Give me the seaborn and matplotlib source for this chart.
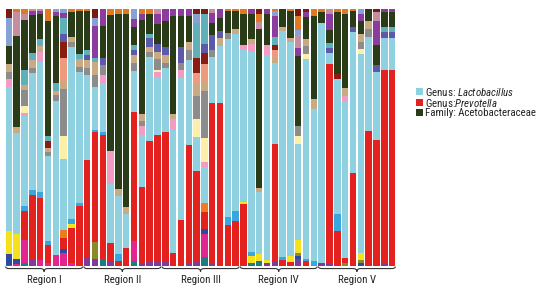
import numpy as np
import pandas as pd
import seaborn as sns
import matplotlib
matplotlib.use("Agg")
import matplotlib.pyplot as plt
from matplotlib import font_manager
from matplotlib.path import Path
from matplotlib.patches import PathPatch, Rectangle
from matplotlib.transforms import blended_transform_factory

# ---------------- data (relative abundance, % per sample) ----------------
regions = ["Region I", "Region II", "Region III", "Region IV", "Region V"]
samples_per_region = 10

lactobacillus = [56, 39, 35, 46.6, 50, 33, 59.5, 25.6, 68, 52,
                 33, 17.5, 20, 22.5, 23, 13, 16, 20.5, 32.6, 22.5,
                 25, 48, 55, 33, 12, 12, 19, 23, 69, 69,
                 59, 78, 24, 79, 31, 87, 83, 36, 80, 60,
                 93, 4, 53, 61, 55, 78, 37, 26.5, 12.4, 12.4]
prevotella = [0, 0, 11, 26, 24, 7, 0, 4, 14, 23.7,
              38, 45, 50, 7.4, 2, 7, 50, 30, 47, 50,
              50, 5, 18, 46, 31, 6, 66, 66, 16, 17.5,
              24, 0, 0, 0, 45, 2.3, 1.5, 0, 2, 0,
              0, 77, 13.6, 2.3, 36, 0, 53, 48.5, 75, 76]
acetobacteraceae = [7, 35, 19.5, 15, 9.7, 44.7, 26, 0, 9.7, 17,
                    15, 0, 13, 52, 68, 74.5, 7, 37, 8, 8,
                    10, 38, 12, 10, 0, 0, 5, 5, 8.5, 7,
                    12, 10, 61, 12, 0, 7, 10.5, 26, 8.5, 33,
                    4, 5, 24, 29, 6, 5, 5, 8, 5.5, 5.5]
# minor taxa
purple_b = [0.5, 0, 0, 2.3, 0, 0, 0, 0, 0, 0,
            3, 3, 0, 1.5, 0, 0, 0, 1, 1.5, 1.5,
            2, 0, 0, 1, 1.5, 0, 1, 0, 0, 0,
            0, 0, 0, 1, 1.5, 0, 0, 2.7, 0, 0,
            1, 1, 0, 0, 0, 0, 0, 0, 1, 0]
teal_b = [0, 0, 1.2, 0, 0, 0, 0, 0, 0, 0,
          0, 0, 3, 0, 0, 0, 2, 0, 0, 0,
          0, 0, 0, 0, 0, 3, 0, 0, 0, 0,
          0, 1, 2, 0, 0, 0, 0, 0, 0, 0,
          0, 0, 0, 0, 0, 0, 0, 0, 0, 0]
magenta = [0, 0.8, 9, 0, 2.3, 1.2, 4.3, 4.6, 1.2, 0,
           0, 0, 0, 0, 0, 0, 7.5, 0, 0, 0,
           0, 0, 0, 0, 0, 8, 0, 0, 0, 0,
           0, 0, 0, 0, 0, 0, 0, 0, 0, 0,
           0, 0, 0, 0, 0, 0, 0, 0, 0, 0]
navy = [4, 2, 0, 0, 0, 0, 0, 1.5, 0, 0,
        0, 0, 0, 0, 0, 0, 0, 0, 0, 0,
        0, 0, 0, 0, 0, 1.5, 0, 0, 0, 0,
        0, 0, 0, 0, 0, 0, 0, 1, 0, 0,
        0, 0, 0, 0, 0, 1, 0, 0, 0, 0]
olive = [0, 0, 0, 0, 0, 0, 0, 0, 0, 0,
         0, 6.6, 0, 0, 0, 0, 0, 0, 0, 0,
         0, 0, 0, 0, 0, 0, 0, 0, 0, 0,
         0, 0, 0, 0, 0, 0, 0, 1.2, 0, 0,
         0, 0, 0, 1, 0, 1.5, 0, 0, 0, 0]
orange = [0, 0, 0, 0, 0, 0, 0, 3, 0, 0,
          0, 0, 0, 0, 0, 0, 0, 0, 0, 0,
          0, 0, 0, 0, 0, 3, 0, 0, 0, 0,
          0, 0, 0, 0, 0, 0, 0, 0, 0, 0,
          0, 0, 0, 0, 0, 0, 0, 0, 0, 0]
yellow = [9, 9.5, 0, 0, 0, 0, 0, 0, 1.5, 0,
          0, 0, 0, 0, 0, 0, 0, 0, 0, 0,
          0, 0, 0, 0, 0, 0, 0, 0, 0, 0,
          1, 3, 2.5, 1.5, 0, 0, 2.5, 4.7, 0, 0,
          0, 0, 0, 0, 0, 2.7, 0, 0, 0, 0]
sky = [0, 0, 2, 2, 2, 1.5, 0, 0, 2, 1,
       0, 1, 1, 0, 2.5, 0, 0, 0, 0, 0,
       0, 0, 0, 0, 0, 0, 0, 0, 3, 4,
       0, 1.5, 0, 0, 0, 1, 0, 0, 1, 2,
       0, 0, 6.6, 0, 0, 0, 0, 0, 0, 0]
pink = [3, 0, 1.2, 0, 3.9, 0, 0, 0, 0, 0,
        0, 0, 3, 12.4, 0, 0, 0, 3.5, 0, 2,
        0, 4, 3, 0, 0, 2, 0, 0, 0, 0,
        2, 3, 0, 4, 0, 0, 0, 0, 0, 0,
        0, 0, 0, 2, 0, 0, 0, 0, 0, 0]
lightyellow = [0, 0, 2.7, 0, 0, 0, 0, 8.5, 0, 0,
               0, 0, 0, 0, 0, 0, 0, 0, 0, 1,
               0, 0, 0, 0, 6, 8, 0, 0, 0, 0,
               0, 0, 0, 0, 0, 0, 0, 3, 2, 0,
               0, 0, 0, 0, 0, 2, 0, 0, 0, 0]
gray = [3, 0, 6, 2, 0, 1.5, 2.5, 17, 2, 2,
        3, 5, 4, 0, 0, 0, 3, 2, 2, 4,
        2, 0, 3, 4, 8, 16, 3, 0, 2.5, 0,
        0, 0, 0, 0, 0, 0, 0, 4, 3, 0,
        0, 0, 0, 0, 0, 3, 3, 0, 0, 0]
tan = [3, 2.3, 2, 3, 2.3, 1.5, 1.5, 3, 2, 3,
       3, 5, 0, 0, 2.7, 2.7, 3, 2.5, 2, 3,
       3, 2, 0, 3, 4, 3, 0, 3, 0, 2,
       0, 2, 1.5, 0, 2, 1.5, 1.5, 0, 3, 4,
       0, 0, 0, 3, 0, 3, 3, 0, 0, 0]
salmon = [0, 0, 0, 0, 0, 0, 0, 8, 0, 0,
          0, 0, 0, 0, 0, 0, 0, 0, 0, 0,
          0, 0, 0, 0, 4, 6, 0, 0, 0, 0,
          0, 0, 0, 0, 3, 0, 0, 0, 0, 0,
          0, 0, 0, 0, 0, 0, 0, 0, 0, 0]
darkred = [0, 0, 0, 0, 0, 2.7, 0, 6, 0, 0,
           0, 0, 0, 0, 0, 0, 0, 0, 0, 0,
           0, 0, 0, 0, 5, 4, 0, 0, 0, 0,
           0, 0, 0, 0, 2, 0, 0, 0, 0, 0,
           0, 0, 2, 0, 0, 0, 0, 0, 0, 0]
slate = [0, 0, 0, 0, 0, 0, 0, 3, 0, 0,
         2, 0, 3, 0, 0, 0, 2, 0, 3.5, 3,
         3, 0, 6, 0, 0, 3, 6, 3, 0, 0,
         0, 0, 0, 0, 0, 0, 0, 0, 0, 0,
         0, 2, 0, 0, 2, 0, 0, 2.5, 2.5, 2.5]
sky_mid = [0, 0, 6, 3, 2.7, 2, 3, 5.5, 0, 2,
           2, 2, 0, 0, 0, 0, 2, 0, 1.5, 0,
           0, 0, 0, 0, 12, 10, 0, 0, 0, 0,
           0, 0, 0, 0, 3, 0, 0, 0, 0, 0,
           0, 2, 0, 0, 0, 0, 0, 0, 2, 2]
violet = [0, 0, 0, 1.5, 1.2, 0, 1.5, 2, 0, 0,
          0, 13, 7, 0, 0, 0, 3, 2.5, 0, 4,
          5, 3, 3, 3, 0, 0, 4, 4, 0, 0,
          0, 2, 0, 2, 8, 0, 0, 3, 2, 0,
          0, 6, 0, 0, 0, 3, 0, 9, 1.5, 1.5]
mauve = [0, 9.3, 2.3, 1, 0.8, 0, 0, 0, 0, 0,
         0, 0, 0, 0, 0, 0, 0, 0, 0, 2,
         0, 0, 0, 0, 0, 0, 2, 0, 0, 0,
         0, 0, 3, 0, 0, 0, 0, 5, 0, 0,
         0, 2.3, 0, 0, 0, 0, 0, 3.5, 0, 0]
steel = [11, 0, 0, 0, 0, 0, 1.5, 1.6, 0, 0,
         0, 3, 0, 0, 0, 0, 4, 0, 0, 0,
         0, 0, 0, 0, 3, 0, 0, 0, 0, 0,
         0, 0, 0, 0, 2, 0, 0, 2, 0, 0,
         0, 0, 0, 0, 0, 2, 0, 0, 0, 0]
orange_t = [0, 1.5, 2, 0, 0, 5, 0, 0, 1.5, 1,
            1, 0, 0, 2.3, 2.3, 2.3, 0, 2, 2, 0,
            0, 0, 0, 0, 0, 0, 0, 0, 1, 1,
            2, 0, 3, 0, 1, 0, 1, 5, 0, 3,
            1.5, 0, 1.5, 2, 1, 0, 0, 0, 0, 0]
darkred_t = [3.5, 0, 0, 0, 0, 0, 0, 0, 0, 0,
             0, 4, 0, 0, 0, 0, 0, 0, 0, 0,
             0, 0, 0, 0, 2, 2, 0, 0, 0, 0,
             0, 0, 2, 0, 0, 0, 0, 3, 1.5, 0,
             0, 0, 0, 0, 0, 0, 0, 1.5, 0, 0]

legend_labels = ["Genus: $\\mathit{Lactobacillus}$",
                 "Genus:$\\mathit{Prevotella}$",
                 "Family: Acetobacteraceae"]

# stacking order, bottom -> top
series = [
    ("purple_b", purple_b), ("teal_b", teal_b), ("magenta", magenta),
    ("navy", navy), ("olive", olive), ("Prevotella", prevotella),
    ("orange", orange), ("yellow", yellow), ("sky", sky),
    ("Lactobacillus", lactobacillus), ("pink", pink),
    ("lightyellow", lightyellow), ("gray", gray), ("tan", tan),
    ("salmon", salmon), ("darkred", darkred), ("slate", slate),
    ("sky_mid", sky_mid), ("Acetobacteraceae", acetobacteraceae),
    ("violet", violet), ("mauve", mauve), ("steel", steel),
    ("orange_t", orange_t), ("darkred_t", darkred_t),
]
palette = {
    "purple_b": "#7d3c98", "teal_b": "#1d7b82", "magenta": "#e2268f",
    "navy": "#2c4a9e", "olive": "#8a8a2a", "Prevotella": "#e3211e",
    "orange": "#f07b1f", "yellow": "#f5e21b", "sky": "#3aa6de",
    "Lactobacillus": "#8fd0e1", "pink": "#f29cc4", "lightyellow": "#fcefa8",
    "gray": "#8c8c8c", "tan": "#c9aa82", "salmon": "#ef9a7e",
    "darkred": "#8a1c12", "slate": "#5b59a8", "sky_mid": "#5fb0b8",
    "Acetobacteraceae": "#2a3b18", "violet": "#8c3c9e", "mauve": "#c48ea0",
    "steel": "#86a2d4", "orange_t": "#e07a22", "darkred_t": "#7a1a10",
}

# ---------------- styling ----------------
sns.set_theme(style="white")
entries = font_manager.fontManager.ttflist
names = {f.name for f in entries}
cond = {}
for f in entries:
    if f.stretch in ("condensed", "semi-condensed", "extra-condensed") \
            or "Narrow" in f.name or "Condensed" in f.name:
        cond.setdefault(f.name, set()).add(f.style)
FAM, STRETCH = None, "normal"
for cand in ["Liberation Sans Narrow", "Roboto Condensed", "Arial Narrow",
             "Open Sans Condensed", "Roboto", "Open Sans", "Noto Sans",
             "DejaVu Sans Condensed", "DejaVu Sans"]:
    if cand in cond and "italic" in cond[cand] and "normal" in cond[cand]:
        FAM, STRETCH = cand, "condensed"
        break
if FAM is None:
    FAM = "Liberation Sans" if "Liberation Sans" in names else "DejaVu Sans"
plt.rcParams["font.family"] = [FAM, "DejaVu Sans"]
plt.rcParams["font.stretch"] = STRETCH
plt.rcParams["mathtext.fontset"] = "custom"
plt.rcParams["mathtext.rm"] = FAM
plt.rcParams["mathtext.it"] = FAM + ":italic"

# ---------------- long table ----------------
n = len(lactobacillus)
totals = np.sum([np.asarray(v, float) for _, v in series], axis=0)
rows = []
for name, vals in series:
    for i, v in enumerate(vals):
        rows.append({"sample": i, "taxon": name, "pct": v / totals[i] * 100.0})
df = pd.DataFrame(rows)

W, H = 548, 301
fig = plt.figure(figsize=(W / 100, H / 100), dpi=100)
ax = fig.add_axes([5 / W, 1 - 266 / H, 391 / W, 257.5 / H])

hue_order = [name for name, _ in series][::-1]  # seaborn stacks first level on top
sns.histplot(data=df, x="sample", weights="pct", hue="taxon", hue_order=hue_order,
             multiple="stack", discrete=True, shrink=0.83, palette=palette,
             linewidth=0, alpha=1, legend=False, ax=ax)
ax.set_xlim(-0.5, n - 0.5)
ax.set_ylim(0, 100)
ax.axis("off")

# ---------------- braces and region labels ----------------
trans = blended_transform_factory(ax.transData, ax.transAxes)
yE, yL, yT = -0.002, -0.010, -0.022
region_texts = []
for r, label in enumerate(regions):
    x0 = r * samples_per_region - 0.42
    x1 = r * samples_per_region + samples_per_region - 1 + 0.42
    xm = (x0 + x1) / 2
    d = 0.45
    verts = [(x0, yE), (x0, yL), (x0 + d, yL),
             (xm - d, yL), (xm, yL), (xm, yT),
             (xm, yL), (xm + d, yL),
             (x1 - d, yL), (x1, yL), (x1, yE)]
    codes = [Path.MOVETO, Path.CURVE3, Path.CURVE3,
             Path.LINETO, Path.CURVE3, Path.CURVE3,
             Path.CURVE3, Path.CURVE3,
             Path.LINETO, Path.CURVE3, Path.CURVE3]
    ax.add_patch(PathPatch(Path(verts, codes), transform=trans, fill=False,
                           edgecolor="#333333", linewidth=0.8, clip_on=False))
    region_texts.append(ax.text(xm, -0.066, label, transform=trans, ha="center",
                                va="baseline", fontsize=8.0, color="#222222"))

# ---------------- legend ----------------
leg_keys = ["Lactobacillus", "Prevotella", "Acetobacteraceae"]
leg_y = [91.7, 102.7, 112.7]
legend_texts = []
for key, lab, yc in zip(leg_keys, legend_labels, leg_y):
    fig.patches.append(Rectangle((416 / W, 1 - (yc + 3.3) / H), 6.5 / W, 6.6 / H,
                                 transform=fig.transFigure, facecolor=palette[key],
                                 edgecolor="none"))
    legend_texts.append(fig.text(425 / W, 1 - yc / H, lab, ha="left", va="center",
                                 fontsize=7.8, color="#222222"))

# fit text widths to the reference (condensed lettering)
fig.canvas.draw()
r = fig.canvas.get_renderer()
w_reg = region_texts[2].get_window_extent(r).width       # "Region III" ~40 px
s_reg = min(8.0, 8.0 * 40.0 / w_reg)
for t in region_texts:
    t.set_fontsize(s_reg)
w_leg = legend_texts[2].get_window_extent(r).width        # "Family: ..." ~113 px
s_leg = min(7.8, 7.8 * 113.0 / w_leg)
for t in legend_texts:
    t.set_fontsize(s_leg)

fig.savefig("out.png", dpi=100)
